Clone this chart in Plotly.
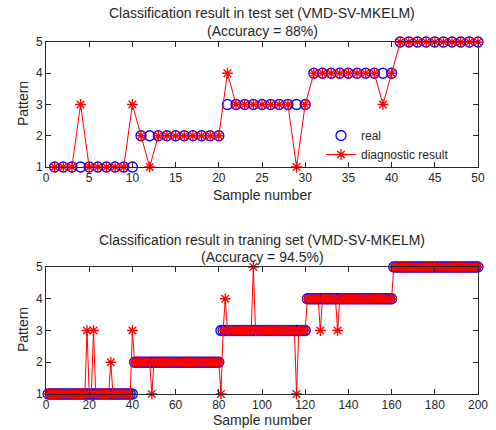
import plotly.graph_objects as go

# ---------------- data ----------------
test_x = list(range(1, 51))
real_test = [1, 1, 1, 1, 1, 1, 1, 1, 1, 1,
             2, 2, 2, 2, 2, 2, 2, 2, 2, 2,
             3, 3, 3, 3, 3, 3, 3, 3, 3, 3,
             4, 4, 4, 4, 4, 4, 4, 4, 4, 4,
             5, 5, 5, 5, 5, 5, 5, 5, 5, 5]
pred_test = [1, 1, 1, 3, 1, 1, 1, 1, 1, 3,
             2, 1, 2, 2, 2, 2, 2, 2, 2, 2,
             4, 3, 3, 3, 3, 3, 3, 3, 1, 3,
             4, 4, 4, 4, 4, 4, 4, 4, 3, 4,
             5, 5, 5, 5, 5, 5, 5, 5, 5, 5]

train_x = list(range(1, 201))
real_train = [1, 1, 1, 1, 1, 1, 1, 1, 1, 1, 1, 1, 1, 1, 1, 1, 1, 1, 1, 1,
              1, 1, 1, 1, 1, 1, 1, 1, 1, 1, 1, 1, 1, 1, 1, 1, 1, 1, 1, 1,
              2, 2, 2, 2, 2, 2, 2, 2, 2, 2, 2, 2, 2, 2, 2, 2, 2, 2, 2, 2,
              2, 2, 2, 2, 2, 2, 2, 2, 2, 2, 2, 2, 2, 2, 2, 2, 2, 2, 2, 2,
              3, 3, 3, 3, 3, 3, 3, 3, 3, 3, 3, 3, 3, 3, 3, 3, 3, 3, 3, 3,
              3, 3, 3, 3, 3, 3, 3, 3, 3, 3, 3, 3, 3, 3, 3, 3, 3, 3, 3, 3,
              4, 4, 4, 4, 4, 4, 4, 4, 4, 4, 4, 4, 4, 4, 4, 4, 4, 4, 4, 4,
              4, 4, 4, 4, 4, 4, 4, 4, 4, 4, 4, 4, 4, 4, 4, 4, 4, 4, 4, 4,
              5, 5, 5, 5, 5, 5, 5, 5, 5, 5, 5, 5, 5, 5, 5, 5, 5, 5, 5, 5,
              5, 5, 5, 5, 5, 5, 5, 5, 5, 5, 5, 5, 5, 5, 5, 5, 5, 5, 5, 5]
pred_train = [1, 1, 1, 1, 1, 1, 1, 1, 1, 1, 1, 1, 1, 1, 1, 1, 1, 1, 3, 1,
              1, 3, 1, 1, 1, 1, 1, 1, 1, 2, 1, 1, 1, 1, 1, 1, 1, 1, 1, 3,
              2, 2, 2, 2, 2, 2, 2, 2, 1, 2, 2, 2, 2, 2, 2, 2, 2, 2, 2, 2,
              2, 2, 2, 2, 2, 2, 2, 2, 2, 2, 2, 2, 2, 2, 2, 2, 2, 2, 2, 2,
              1, 3, 4, 3, 3, 3, 3, 3, 3, 3, 3, 3, 3, 3, 3, 5, 3, 3, 3, 3,
              3, 3, 3, 3, 3, 3, 3, 3, 3, 3, 3, 3, 3, 3, 3, 1, 3, 3, 3, 3,
              4, 4, 4, 4, 4, 4, 3, 4, 4, 4, 4, 4, 4, 4, 3, 4, 4, 4, 4, 4,
              4, 4, 4, 4, 4, 4, 4, 4, 4, 4, 4, 4, 4, 4, 4, 4, 4, 4, 4, 4,
              5, 5, 5, 5, 5, 5, 5, 5, 5, 5, 5, 5, 5, 5, 5, 5, 5, 5, 5, 5,
              5, 5, 5, 5, 5, 5, 5, 5, 5, 5, 5, 5, 5, 5, 5, 5, 5, 5, 5, 5]

test_xticks = [0, 5, 10, 15, 20, 25, 30, 35, 40, 45, 50]
train_xticks = [0, 20, 40, 60, 80, 100, 120, 140, 160, 180, 200]
y_ticks = [1, 2, 3, 4, 5]

# ---------------- layout helpers ----------------
W, H = 496, 430
FONT = "Liberation Sans, Arial, sans-serif"
TXT = "#262626"

def px_x(p):  # window pixel -> paper x
    return p / W

def px_y(p):  # window pixel -> paper y
    return 1 - p / H

x_dom = [px_x(46), px_x(478)]
top_dom = [px_y(167), px_y(42)]
bot_dom = [px_y(394), px_y(267)]

fig = go.Figure()

circle_marker = dict(symbol="circle-open", size=10, color="#0000ff",
                     line=dict(width=1.3, color="#0000ff"))
star_marker = dict(symbol="asterisk-open", size=9, color="#ff0000",
                   line=dict(width=1.3, color="#ff0000"))

# top subplot
fig.add_trace(go.Scatter(x=test_x, y=real_test, mode="markers", name="real",
                         marker=circle_marker, cliponaxis=False, xaxis="x", yaxis="y"))
fig.add_trace(go.Scatter(x=test_x, y=pred_test, mode="lines+markers", name="diagnostic result",
                         line=dict(color="#ff0000", width=1), marker=star_marker,
                         cliponaxis=False, xaxis="x", yaxis="y"))

# bottom subplot
fig.add_trace(go.Scatter(x=train_x, y=real_train, mode="markers", name="real",
                         marker=circle_marker, cliponaxis=False, showlegend=False,
                         xaxis="x2", yaxis="y2"))
fig.add_trace(go.Scatter(x=train_x, y=pred_train, mode="lines+markers", name="diagnostic result",
                         line=dict(color="#ff0000", width=1), marker=star_marker,
                         cliponaxis=False, showlegend=False, xaxis="x2", yaxis="y2"))

axis_common = dict(showline=True, linecolor="#262626", linewidth=1, mirror="ticks",
                   ticks="inside", ticklen=5, tickwidth=1, tickcolor="#262626",
                   showgrid=False, zeroline=False, automargin=False,
                   ticklabeloverflow="allow",
                   tickfont=dict(family=FONT, size=12, color=TXT))

fig.update_layout(
    width=W, height=H,
    margin=dict(l=0, r=0, t=0, b=0),
    paper_bgcolor="white", plot_bgcolor="white",
    font=dict(family=FONT, size=12, color=TXT),
    xaxis=dict(domain=x_dom, range=[0, 50], tickvals=test_xticks, anchor="y", **axis_common),
    yaxis=dict(domain=top_dom, range=[1, 5], tickvals=y_ticks, anchor="x", **axis_common),
    xaxis2=dict(domain=x_dom, range=[0, 200], tickvals=train_xticks, anchor="y2", **axis_common),
    yaxis2=dict(domain=bot_dom, range=[1, 5], tickvals=y_ticks, anchor="x2", **axis_common),
    showlegend=True,
    legend=dict(x=px_x(321), y=px_y(121), xanchor="left", yanchor="top",
                bgcolor="rgba(255,255,255,0)", borderwidth=0,
                font=dict(family=FONT, size=12, color=TXT),
                tracegroupgap=0, itemwidth=30),
)

cx = (46 + 478) / 2
annots = [
    ("Classification result in test set (VMD-SV-MKELM)", cx, 13, 14, 0),
    ("(Accuracy = 88%)", cx, 31, 14, 0),
    ("Sample number", cx, 195, 14, 0),
    ("Classification result in traning set (VMD-SV-MKELM)", cx, 240, 14, 0),
    ("(Accuracy = 94.5%)", cx, 257, 14, 0),
    ("Sample number", cx, 420, 14, 0),
    ("Pattern", 23, 104, 14, -90),
    ("Pattern", 23, 330, 14, -90),
]
for text, x, py, size, ang in annots:
    fig.add_annotation(text=text, x=px_x(x), y=px_y(py), xref="paper", yref="paper",
                       xanchor="center", yanchor="middle", showarrow=False,
                       textangle=ang, font=dict(family=FONT, size=size, color=TXT))

# remove the default 8px page margin so the figure fills the window exactly
fig.write_html("out.html", config={"displayModeBar": False},
               post_script="document.body.style.margin='0';")
